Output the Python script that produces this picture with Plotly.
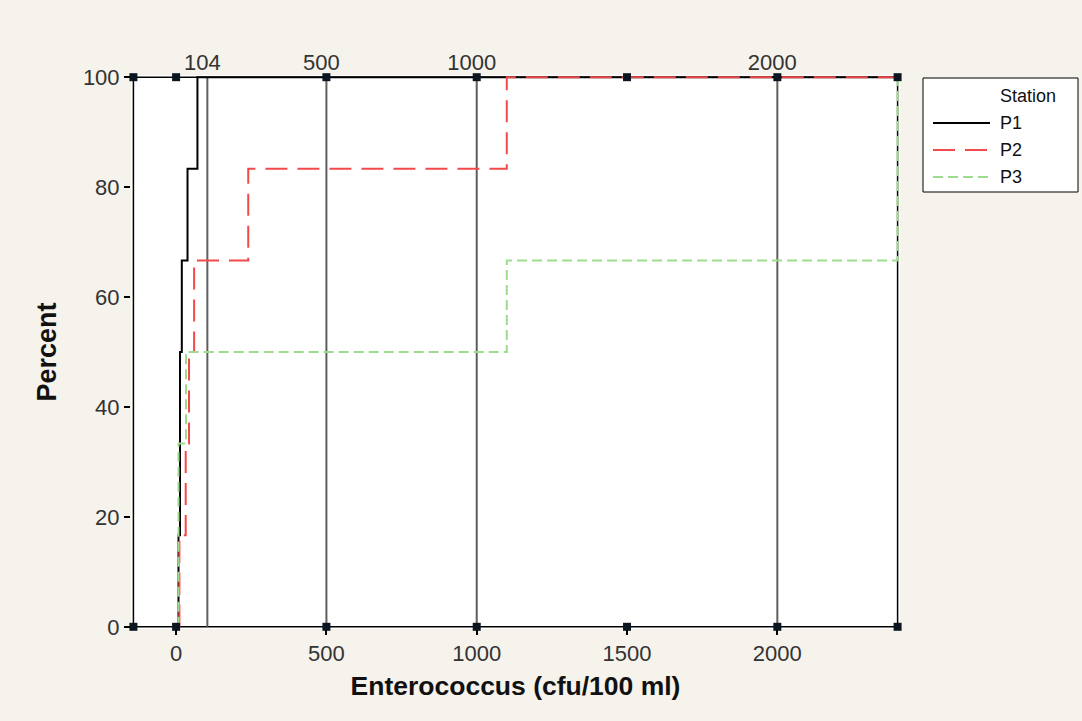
import numpy as np
import plotly.graph_objects as go

# Enterococcus counts (cfu/100 ml) per sampling station
stations = ["P1", "P2", "P3"]
p1 = [8, 13, 13, 19, 38, 71]
p2 = [11, 32, 43, 60, 240, 1100]
p3 = [8, 8, 33, 1100, 2400, 2400]

# reference lines drawn across the plot, labelled along the top
ref_lines = [104, 500, 1000, 2000]
ref_labels = ["104", "500", "1000", "2000"]

x_ticks = [0, 500, 1000, 1500, 2000]
y_ticks = [0, 20, 40, 60, 80, 100]
x_lo, x_hi = -142, 2400

colors = {"P1": "#000000", "P2": "#f24a4a", "P3": "#9fdb8f"}
dashes = {"P1": "solid", "P2": "22px,10px", "P3": "10px,5px"}
values = {"P1": p1, "P2": p2, "P3": p3}

FONT = "Liberation Sans"
W, H = 1082, 721
M = dict(l=131, r=182, t=75, b=92)


def ecdf_path(vals, x_end):
    v = np.sort(np.asarray(vals, dtype=float))
    uniq = np.unique(v)
    pct = [100.0 * np.searchsorted(v, u, side="right") / len(v) for u in uniq]
    xs = [uniq[0]] + list(uniq) + [x_end]
    ys = [0.0] + pct + [100.0]
    return xs, ys


# pixel -> paper coordinate helpers for the legend panel
def px(x):
    return (x - M["l"]) / (W - M["l"] - M["r"])


def py(y):
    return (H - M["b"] - y) / (H - M["t"] - M["b"])


fig = go.Figure()

for s in stations:
    xs, ys = ecdf_path(values[s], x_hi)
    fig.add_trace(go.Scatter(
        x=xs, y=ys, mode="lines", name=s, line_shape="hv",
        line=dict(color=colors[s], width=2, dash=dashes[s]),
        showlegend=False,
    ))

# small square handles on the frame at the ticks and corners
hx = [x_lo] + x_ticks + [x_hi]
fig.add_trace(go.Scatter(
    x=hx * 2, y=[0] * len(hx) + [100] * len(hx), mode="markers",
    marker=dict(symbol="square", size=8, color="#0b1620"),
    showlegend=False, hoverinfo="skip", cliponaxis=False,
))

# dummy trace to activate the top axis carrying the reference labels
fig.add_trace(go.Scatter(x=[x_lo, x_hi], y=[0, 0], xaxis="x2", mode="lines",
                         line=dict(width=0), showlegend=False, hoverinfo="skip"))

shapes = [dict(type="rect", xref="x", yref="y", x0=x_lo, x1=x_hi, y0=0, y1=100,
               line=dict(color="#000000", width=1.5), layer="below")]
for r in ref_lines:
    shapes.append(dict(type="line", xref="x", yref="y", x0=r, x1=r, y0=0, y1=100,
                       line=dict(color="#5e5e5e", width=2), layer="below"))

# legend panel
annotations = []
shapes.append(dict(type="rect", xref="paper", yref="paper",
                   x0=px(923), x1=px(1078), y0=py(192), y1=py(78),
                   line=dict(color="#000000", width=1), fillcolor="#ffffff"))
annotations.append(dict(xref="paper", yref="paper", x=px(998), y=py(96),
                        text="Station", showarrow=False, xanchor="left",
                        yanchor="middle", font=dict(size=18, color="#111111")))
for i, s in enumerate(stations):
    yy = py(123 + 27 * i)
    shapes.append(dict(type="line", xref="paper", yref="paper",
                       x0=px(933), x1=px(990), y0=yy, y1=yy,
                       line=dict(color=colors[s], width=2, dash=dashes[s])))
    annotations.append(dict(xref="paper", yref="paper", x=px(998), y=yy,
                            text=s, showarrow=False, xanchor="left",
                            yanchor="middle", font=dict(size=18, color="#111111")))

fig.update_layout(
    width=W, height=H,
    margin=M,
    paper_bgcolor="#f6f2ec",
    plot_bgcolor="#ffffff",
    font=dict(family=FONT, size=22, color="#333333"),
    shapes=shapes,
    annotations=annotations,
    showlegend=False,
    xaxis=dict(
        range=[-150, 2408], tickvals=x_ticks, ticks="outside", ticklen=5,
        tickcolor="#000000", tickwidth=1.5, showgrid=False, zeroline=False,
        showline=False, tickfont=dict(size=22, color="#333333"),
        title=dict(text="<b>Enterococcus (cfu/100 ml)</b>",
                   font=dict(size=26.5, color="#111111"), standoff=11),
    ),
    xaxis2=dict(
        overlaying="x", side="top", matches="x", range=[-150, 2408],
        tickvals=ref_lines, ticktext=ref_labels, ticks="", showgrid=False,
        zeroline=False, showline=False, tickfont=dict(size=22, color="#333333"),
        ticklabelshift=-5,
    ),
    yaxis=dict(
        range=[-0.4, 100.4], tickvals=y_ticks, ticks="outside", ticklen=6,
        tickcolor="#000000", tickwidth=1.5, showgrid=False, zeroline=False,
        showline=False, tickfont=dict(size=22, color="#333333"),
        title=dict(text="<b>Percent</b>", font=dict(size=27, color="#111111"),
                   standoff=18),
    ),
)

fig.write_html("out.html")
